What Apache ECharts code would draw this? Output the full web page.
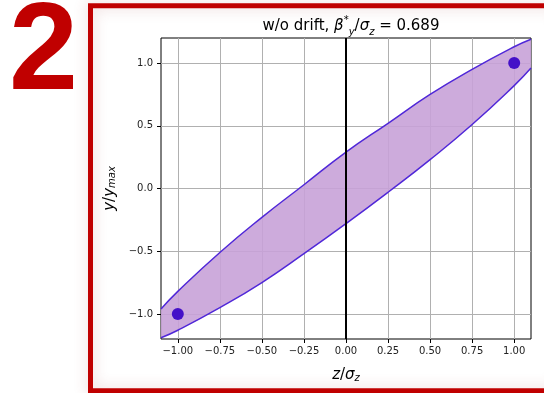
<!DOCTYPE html>
<html>
<head>
<meta charset="utf-8">
<script src="https://cdn.jsdelivr.net/npm/echarts@6/dist/echarts.min.js"></script>
<style>
  html, body { margin: 0; padding: 0; background: #fff; }
  #chart { width: 544px; height: 393px; }
</style>
</head>
<body>
<div id="chart"></div>
<script>
// values
const zVals = [-1.1, -1.0, -0.75, -0.5, -0.25, 0, 0.25, 0.5, 0.75, 1.0, 1.1];
const upperVals = [-0.96, -0.82, -0.51, -0.23, 0.03, 0.29, 0.52, 0.75, 0.95, 1.13, 1.19];
const lowerVals = [-1.19, -1.13, -0.95, -0.75, -0.52, -0.28, -0.03, 0.23, 0.51, 0.82, 0.96];
const markerZ = [-1, 1];
const markerY = [-1, 1];
const xTicks = [-1, -0.75, -0.5, -0.25, 0, 0.25, 0.5, 0.75, 1];
const yTicks = [-1, -0.5, 0, 0.5, 1];
const centerLineZ = 0;

const edgeColor = '#5028d8';
const fillColor = '#c8a2d8';
const dotColor = '#4410c8';
const font = 'DejaVu Sans';

const minus = s => s.replace('-', '\u2212');

// y value first so the stack is applied on y (encode maps it back)
const lowerData = zVals.map((z, i) => [lowerVals[i], z]);
const bandData = zVals.map((z, i) => [+(upperVals[i] - lowerVals[i]).toFixed(3), z]);
const dotData = markerZ.map((z, i) => [z, markerY[i]]);

const chart = echarts.init(document.getElementById('chart'), null, { renderer: 'canvas' });

const richText = {
    t: { fontFamily: font, fontSize: 15, fontWeight: 'normal', color: '#000' },
    i: { fontFamily: font, fontSize: 15, fontWeight: 'normal', fontStyle: 'italic', color: '#000' },
    sub: { fontFamily: font, fontSize: 10, fontWeight: 'normal', fontStyle: 'italic', color: '#000', verticalAlign: 'bottom', lineHeight: 14 }
};

const option = {
    animation: false,
    backgroundColor: '#fff',
    title: {
        text: '{t|w/o drift, }{i|β}{sup|*}{sub|y}{t|/}{i|σ}{sub|z}{t| = 0.689}',
        left: 346,
        top: 10,
        textAlign: 'center',
        textStyle: {
            fontWeight: 'normal',
            rich: {
                t: { fontFamily: font, fontSize: 15, fontWeight: 'normal', color: '#000', lineHeight: 22 },
                i: { fontFamily: font, fontSize: 15, fontWeight: 'normal', fontStyle: 'italic', color: '#000', lineHeight: 22 },
                sup: { fontFamily: font, fontSize: 10, fontWeight: 'normal', color: '#000', verticalAlign: 'top', lineHeight: 14 },
                sub: { fontFamily: font, fontSize: 10, fontWeight: 'normal', fontStyle: 'italic', color: '#000', verticalAlign: 'bottom', lineHeight: 16 }
            }
        }
    },
    grid: {
        left: 161,
        top: 38,
        right: 13,
        bottom: 54,
        show: true,
        borderColor: '#000',
        borderWidth: 1,
        backgroundColor: 'transparent'
    },
    xAxis: {
        type: 'value',
        min: -1.1,
        max: 1.1,
        name: '{i|z}{t|/}{i|σ}{sub|z}',
        nameLocation: 'middle',
        nameGap: 29,
        nameTextStyle: { rich: richText },
        axisLine: { show: false, onZero: false },
        axisTick: {
            show: true, inside: false, length: 4, customValues: xTicks,
            lineStyle: { color: '#000', width: 1 }
        },
        axisLabel: {
            customValues: xTicks,
            margin: 7,
            fontFamily: font,
            fontSize: 10,
            color: '#222',
            formatter: v => minus(v.toFixed(2))
        },
        splitLine: { show: true, lineStyle: { color: '#b0b0b0', width: 1 } }
    },
    yAxis: {
        type: 'value',
        min: -1.2,
        max: 1.2,
        name: '{i|y}{t|/}{i|y}{sub|max}',
        nameLocation: 'middle',
        nameGap: 40,
        nameTextStyle: { rich: richText },
        axisLine: { show: false, onZero: false },
        axisTick: {
            show: true, inside: false, length: 4, customValues: yTicks,
            lineStyle: { color: '#000', width: 1 }
        },
        axisLabel: {
            customValues: yTicks,
            margin: 8,
            fontFamily: font,
            fontSize: 10,
            color: '#222',
            formatter: v => minus(v.toFixed(1))
        },
        splitLine: { show: true, lineStyle: { color: '#b0b0b0', width: 1 } }
    },
    series: [
        {
            name: 'lower',
            type: 'line',
            data: lowerData,
            encode: { x: 1, y: 0 },
            stack: 'band',
            stackStrategy: 'all',
            smooth: 0.5,
            showSymbol: false,
            lineStyle: { color: edgeColor, width: 1.5 },
            z: 3
        },
        {
            name: 'upper',
            type: 'line',
            data: bandData,
            encode: { x: 1, y: 0 },
            stack: 'band',
            stackStrategy: 'all',
            smooth: 0.5,
            showSymbol: false,
            lineStyle: { color: edgeColor, width: 1.5 },
            areaStyle: { color: fillColor, opacity: 0.9 },
            z: 2,
            markLine: {
                silent: true,
                symbol: 'none',
                label: { show: false },
                lineStyle: { color: '#000', width: 2, type: 'solid' },
                data: [{ xAxis: centerLineZ }],
                z: 5
            }
        },
        {
            name: 'markers',
            type: 'scatter',
            data: dotData,
            symbolSize: 12,
            itemStyle: { color: dotColor, opacity: 1 },
            z: 6
        }
    ],
    graphic: [
        {
            type: 'rect',
            shape: { x: 90.5, y: 5.8, width: 470, height: 385 },
            style: {
                fill: 'none',
                stroke: '#c00000',
                lineWidth: 5,
                shadowBlur: 14,
                shadowColor: 'rgba(160,60,60,0.25)'
            },
            silent: true
        },
        {
            type: 'text',
            left: 9,
            top: -7,
            style: {
                text: '2',
                fontFamily: 'Liberation Sans',
                fontWeight: 'bold',
                fontSize: 124,
                fill: '#c00000'
            },
            silent: true
        }
    ]
};

chart.setOption(option);
window.addEventListener('resize', () => chart.resize());
</script>
</body>
</html>
